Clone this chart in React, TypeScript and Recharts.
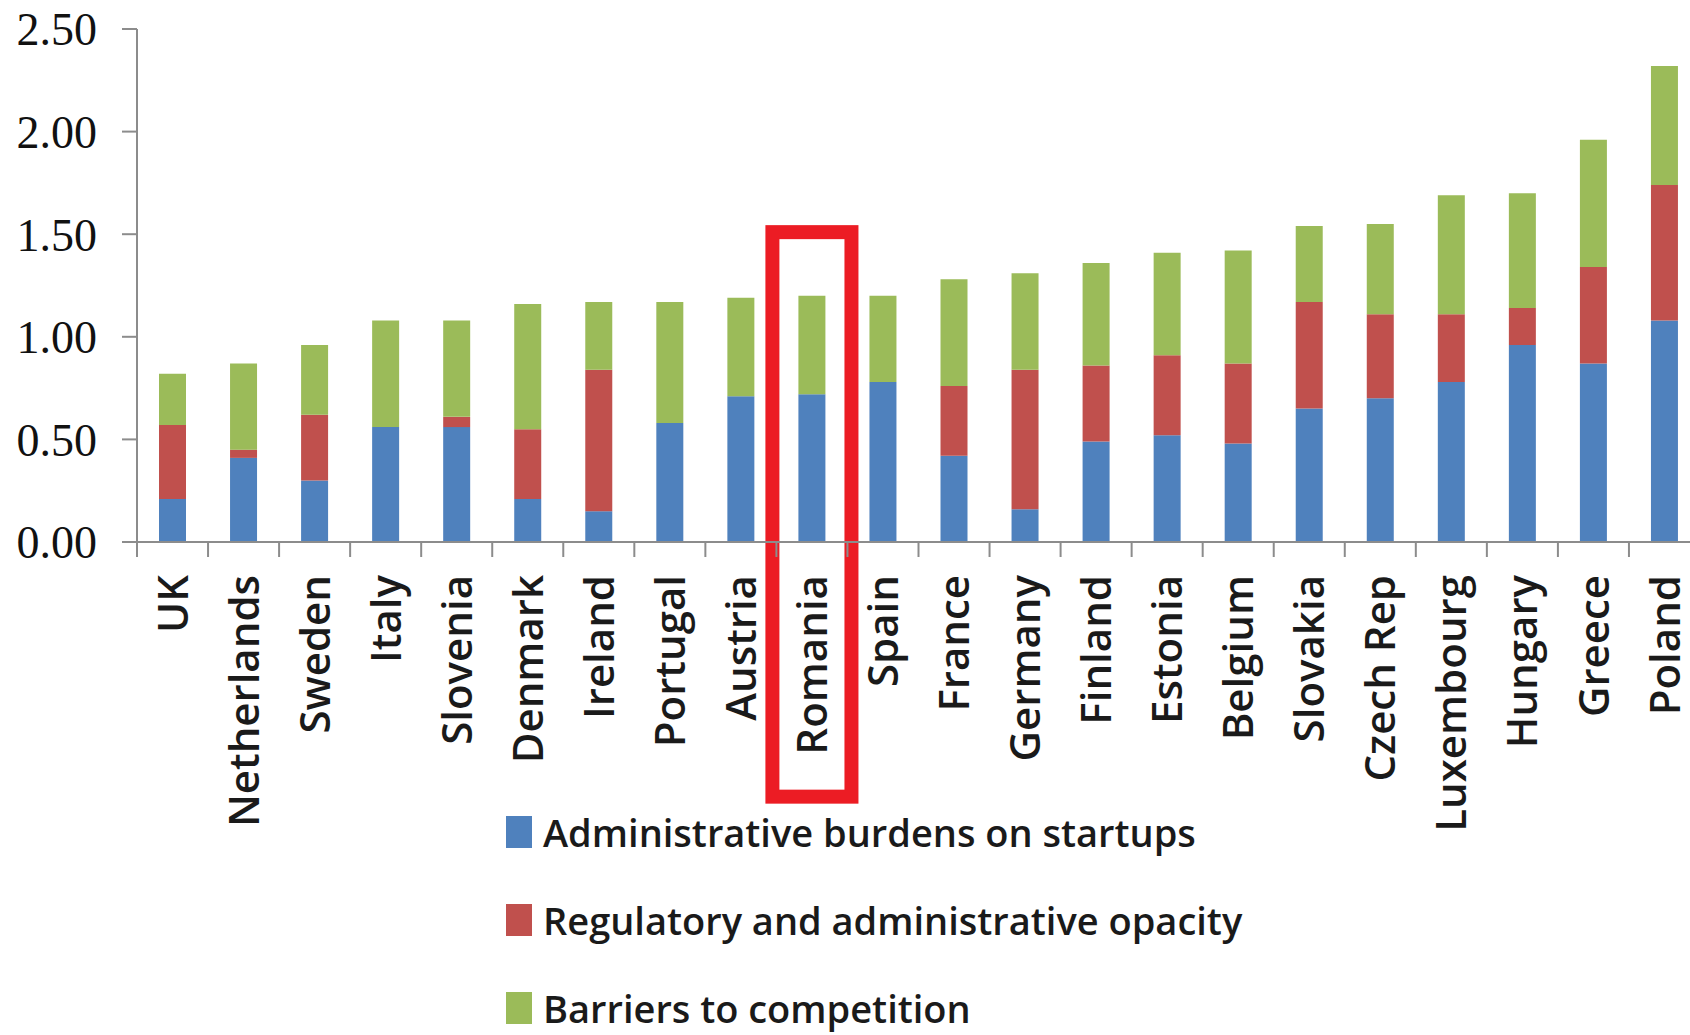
import { BarChart, Bar, XAxis, YAxis, ReferenceArea, Legend } from "recharts"

const countries = [
  "UK", "Netherlands", "Sweden", "Italy", "Slovenia", "Denmark", "Ireland", "Portugal",
  "Austria", "Romania", "Spain", "France", "Germany", "Finland", "Estonia", "Belgium",
  "Slovakia", "Czech Rep", "Luxembourg", "Hungary", "Greece", "Poland",
]

const adminBurdens = [
  0.21, 0.41, 0.30, 0.56, 0.56, 0.21, 0.15, 0.58, 0.71, 0.72, 0.78,
  0.42, 0.16, 0.49, 0.52, 0.48, 0.65, 0.70, 0.78, 0.96, 0.87, 1.08,
]
const regOpacity = [
  0.36, 0.04, 0.32, 0.0, 0.05, 0.34, 0.69, 0.0, 0.0, 0.0, 0.0,
  0.34, 0.68, 0.37, 0.39, 0.39, 0.52, 0.41, 0.33, 0.18, 0.47, 0.66,
]
const competition = [
  0.25, 0.42, 0.34, 0.52, 0.47, 0.61, 0.33, 0.59, 0.48, 0.48, 0.42,
  0.52, 0.47, 0.50, 0.50, 0.55, 0.37, 0.44, 0.58, 0.56, 0.62, 0.58,
]

const yTicks = [0, 0.5, 1, 1.5, 2, 2.5]
const highlighted = "Romania"

const series = [
  { key: "admin", name: "Administrative burdens on startups", color: "#4f81bd" },
  { key: "regOpacity", name: "Regulatory and administrative opacity", color: "#c0504d" },
  { key: "competition", name: "Barriers to competition", color: "#9bbb59" },
]

const data = countries.map((name, i) => ({
  name,
  admin: adminBurdens[i],
  regOpacity: regOpacity[i],
  competition: competition[i],
}))

const axisGrey = "#8c8c8c"

function CountryTick(props: any) {
  const { x, y, payload } = props
  const half = payload.offset || 0
  const ty = y + 33
  return (
    <g>
      <line x1={x - half} x2={x - half} y1={y} y2={y + 15} stroke={axisGrey} strokeWidth={2} />
      <text
        x={x}
        y={ty}
        dy="0.36em"
        textAnchor="end"
        transform={`rotate(-90, ${x}, ${ty})`}
        fontFamily="'Open Sans', sans-serif"
        fontSize={42}
        fontWeight={600}
        fill="#1a1a1a"
      >
        {payload.value}
      </text>
    </g>
  )
}

function HighlightBox(props: any) {
  const { x, y, width, height } = props
  const pad = 4
  return (
    <rect
      x={x - pad}
      y={y}
      width={width + pad * 2}
      height={height}
      fill="none"
      stroke="#ec1c24"
      strokeWidth={14}
    />
  )
}

function LegendRows() {
  return (
    <div>
      {series.map((s) => (
        <div key={s.key} style={{ display: "flex", alignItems: "center", height: 88 }}>
          <span style={{ display: "inline-block", width: 26, height: 32, background: s.color, marginRight: 11 }} />
          <span
            style={{
              fontFamily: "'Open Sans', sans-serif",
              fontSize: 38,
              fontWeight: 600,
              color: "#1a1a1a",
              whiteSpace: "nowrap",
              lineHeight: 1,
            }}
          >
            {s.name}
          </span>
        </div>
      ))}
    </div>
  )
}

export default function App() {
  return (
    <div style={{ position: "absolute", left: 0, top: 0, width: 1690, height: 1035, overflow: "hidden", background: "#fff" }}>
      <BarChart width={1700} height={1035} data={data} margin={{ top: 29, right: 0, left: 0, bottom: 0 }} barSize={27}>
        <XAxis
          dataKey="name"
          interval={0}
          height={493}
          tickLine={false}
          tickSize={0}
          tickMargin={0}
          axisLine={{ stroke: axisGrey, strokeWidth: 2 }}
          tick={<CountryTick />}
        />
        <YAxis
          width={137}
          domain={[0, 2.5]}
          ticks={yTicks}
          tickFormatter={(v: number) => v.toFixed(2)}
          tickSize={15}
          tickMargin={25}
          axisLine={{ stroke: axisGrey, strokeWidth: 2 }}
          tickLine={{ stroke: axisGrey, strokeWidth: 2 }}
          tick={{ fontFamily: "'Liberation Serif', serif", fontSize: 46, fill: "#111" }}
        />
        {series.map((s) => (
          <Bar key={s.key} dataKey={s.key} name={s.name} stackId="a" fill={s.color} isAnimationActive={false} />
        ))}
        <ReferenceArea
          x1={highlighted}
          x2={highlighted}
          y1={-1.241}
          y2={1.51}
          ifOverflow="visible"
          shape={<HighlightBox />}
        />
        <Legend
          layout="vertical"
          align="center"
          verticalAlign="middle"
          wrapperStyle={{ position: "absolute", left: 506, top: 788, width: "auto" }}
          content={() => <LegendRows />}
        />
      </BarChart>
    </div>
  )
}
